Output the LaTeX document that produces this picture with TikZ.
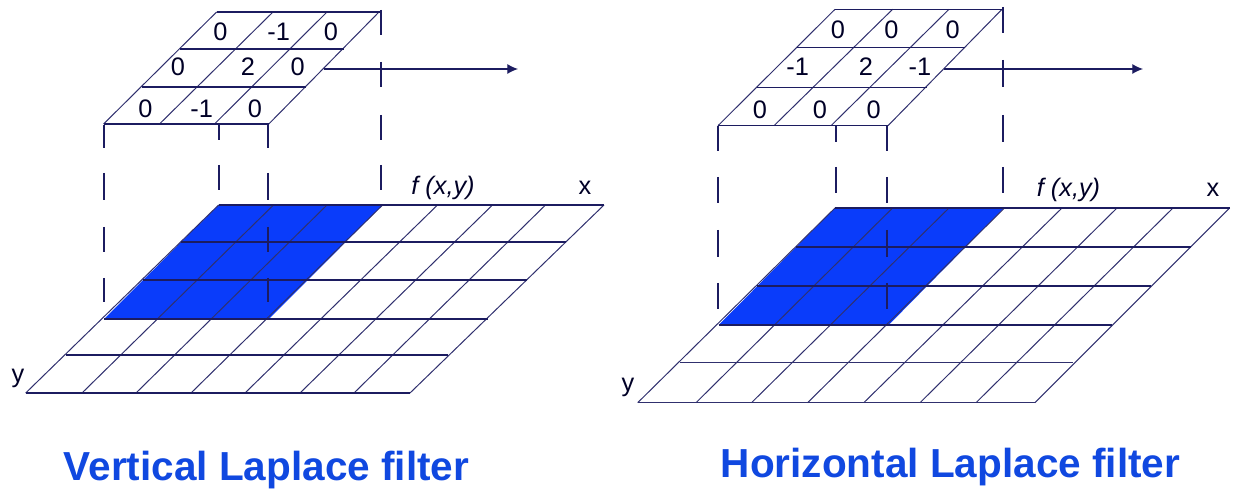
\documentclass[tikz,border=0pt]{standalone}
\usepackage{fontspec}
\usetikzlibrary{arrows.meta}
\setmainfont{Liberation Sans}
\definecolor{gridline}{RGB}{28,28,96}
\definecolor{diagline}{RGB}{48,48,110}
\definecolor{cellblue}{RGB}{10,60,250}
\definecolor{titleblue}{RGB}{16,72,224}
\tikzset{
  gridedge/.style={gridline, line width=0.9pt},
  griddiag/.style={diagline, line width=0.75pt},
  drop/.style={gridline, line width=1.3pt},
  flowarrow/.style={gridline, line width=0.9pt, -{Latex[length=8pt,width=7.5pt]}},
  cell/.style={font=\fontsize{19}{21}\selectfont, text=black!85!blue, inner sep=0pt},
  axislabel/.style={font=\fontsize{19}{21}\selectfont, text=black!85!blue, inner sep=0pt},
  filtertitle/.style={font=\bfseries\fontsize{30.4}{34}\selectfont, text=titleblue, inner sep=0pt}
}
\begin{document}
\begin{tikzpicture}[x=0.75pt,y=-0.75pt]
\useasboundingbox (0,0) rectangle (1233,491);
% left panel: image plane
\fill[cellblue] (218.6,205) -- (382.6,205) -- (269,319) -- (104,319) -- cycle;
\foreach \t/\b in {218.6/25.7,273.5/82,327/136,382.6/191,437.5/245,492.5/300,545.5/354,604/410}
  \draw[griddiag] (\t,205) -- (\b,393);
\foreach \y/\l/\r in {205/218.6/604,242/181/566,280/143/527,319/104/488,355/66/448,393/25.7/410}
  \draw[gridedge] (\l,\y) -- (\r,\y);
% left panel: filter mask
\foreach \t/\b in {216.6/103.6,273/159.5,327/214.5,379/268.8}
  \draw[griddiag] (\t,12) -- (\b,124);
\foreach \y/\l/\r in {12/216.6/381,49/180/344,87/142/306,124/103.6/268.8}
  \draw[gridedge] (\l,\y) -- (\r,\y);
\node[cell] (la1) at (220.5,32) {0};
\node[cell] (la2) at (278.6,32) {-1};
\node[cell] (la3) at (331,32) {0};
\node[cell] (lb1) at (178,67) {0};
\node[cell] (lb2) at (248,67) {2};
\node[cell] (lb3) at (297.6,67) {0};
\node[cell] (lc1) at (145.5,109) {0};
\node[cell] (lc2) at (201.6,109) {-1};
\node[cell] (lc3) at (255,109) {0};
% left panel: drop lines
\foreach \a/\b in {125/148,173/200,227/252,278/302}{
  \draw[drop] (104,\a) -- (104,\b);
  \draw[drop] (268,\a) -- (268,\b);
}
\draw[drop,line width=1.7pt] (219,125) -- (219,140);
\draw[drop] (219,165) -- (219,190);
\foreach \a/\b in {10/35,62/87,115/140,165/190}
  \draw[drop] (381,\a) -- (381,\b);
\coordinate (larrow) at (324,69);
\coordinate (larrowend) at (518,69);
\draw[flowarrow] (larrow) -- (larrowend);
\node[axislabel,font=\itshape\fontsize{19}{21}\selectfont] (lf) at (443,188) {f (x,y)};
\node[axislabel] (lx) at (585,188) {x};
\node[axislabel] (ly) at (18,378) {y};
\node[filtertitle] (ltitle) at (266.5,470) {Vertical Laplace filter};
% right panel: image plane
\fill[cellblue] (835,208) -- (1004,208) -- (888.7,325) -- (718.7,325) -- cycle;
\foreach \t/\b in {835/637.7,892.6/696,949/751.5,1004.5/807.6,1062/863.8,1117/920,1173/976,1229.7/1035}
  \draw[griddiag] (\t,208) -- (\b,402.7);
\foreach \y/\l/\r in {208/835/1229.7,247/796/1191,286/757/1151,325/718.7/1112}
  \draw[gridedge] (\l,\y) -- (\r,\y);
\foreach \y/\l/\r in {363/680/1073,402.7/637.7/1035}
  \draw[griddiag] (\l,\y) -- (\r,\y);
% right panel: filter mask
\foreach \t/\b in {835/718,892.6/774,949/831,1002/888}
  \draw[griddiag] (\t,9.3) -- (\b,125.7);
\foreach \y/\l/\r in {9.3/835/1003,47.7/797/965,87.7/757/927,125.7/718/888}
  \draw[gridedge] (\l,\y) -- (\r,\y);
\node[cell] (ra1) at (838,30) {0};
\node[cell] (ra2) at (891.4,30) {0};
\node[cell] (ra3) at (952.7,30) {0};
\node[cell] (rb1) at (797.7,67) {-1};
\node[cell] (rb2) at (866,67) {2};
\node[cell] (rb3) at (920,67) {-1};
\node[cell] (rc1) at (760,110) {0};
\node[cell] (rc2) at (820,110) {0};
\node[cell] (rc3) at (873.6,110) {0};
% right panel: drop lines
\foreach \a/\b in {126/151,177/203,230/257,283/309}{
  \draw[drop,line width=1.8pt] (718,\a) -- (718,\b);
  \draw[drop] (887,\a) -- (887,\b);
}
\draw[drop] (836,126) -- (836,142);
\draw[drop,line width=0.9pt] (836,167) -- (836,193);
\foreach \a/\b in {7/33,60/87,115/142,167/193}
  \draw[drop] (1003,\a) -- (1003,\b);
\coordinate (rarrow) at (944,69);
\coordinate (rarrowend) at (1143,69);
\draw[flowarrow] (rarrow) -- (rarrowend);
\node[axislabel,font=\itshape\fontsize{19}{21}\selectfont] (rf) at (1068.5,190) {f (x,y)};
\node[axislabel] (rx) at (1213,190) {x};
\node[axislabel] (ry) at (628,387) {y};
\node[filtertitle] (rtitle) at (950.5,467) {Horizontal Laplace filter};
\end{tikzpicture}
\end{document}
